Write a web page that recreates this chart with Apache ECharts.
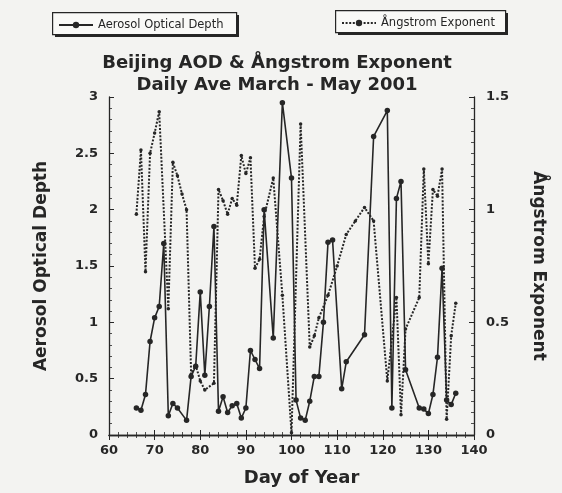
<!DOCTYPE html>
<html>
<head>
<meta charset="utf-8">
<script src="https://cdn.jsdelivr.net/npm/echarts@6/dist/echarts.min.js"></script>
<style>
  html, body { margin: 0; padding: 0; background: #f3f3f1; }
  #chart { width: 562px; height: 493px; }
</style>
</head>
<body>
<div id="chart"></div>
<script>
// Day of year for each daily AOD average
const aodDays = [66,67,68,69,70,71,72,73,74,75,
  77,78,79,80,81,82,83,84,85,86,87,88,89,90,91,92,93,94,
  96,98,100,101,102,103,104,105,106,107,108,109,
  111,112,116,118,121,122,123,124,125,
  128,129,130,131,132,133,134,135,136];
// Daily average aerosol optical depth
const aodValues = [0.24,0.22,0.36,0.83,1.04,1.14,1.70,0.17,0.28,0.24,
  0.13,0.52,0.61,1.27,0.53,1.14,1.85,0.21,0.34,0.20,0.26,0.28,0.15,0.24,0.75,0.67,0.59,2.00,
  0.86,2.95,2.28,0.31,0.15,0.13,0.30,0.52,0.52,1.00,1.71,1.73,
  0.41,0.65,0.89,2.65,2.88,0.24,2.10,2.25,0.58,
  0.24,0.23,0.19,0.36,0.69,1.48,0.31,0.27,0.37];

// Day of year for each daily Ångstrom exponent average
const angDays = [66,67,68,69,70,71,
  73,74,75,76,77,78,79,80,81,
  83,84,85,86,87,88,89,90,91,92,93,94,
  96,98,100,102,104,105,106,108,110,112,114,116,118,
  121,123,124,125,128,129,130,131,132,133,134,135,136];
// Daily average Ångstrom exponent
const angValues = [0.98,1.265,0.725,1.25,1.34,1.435,
  0.56,1.21,1.15,1.07,1.0,0.27,0.31,0.24,0.20,
  0.23,1.09,1.04,0.98,1.05,1.02,1.24,1.16,1.23,0.74,0.78,0.97,
  1.14,0.62,0.01,1.38,0.39,0.44,0.52,0.62,0.75,0.89,0.95,1.01,0.95,
  0.24,0.61,0.09,0.47,0.61,1.18,0.76,1.09,1.06,1.18,0.07,0.44,0.585];

const aodTicks = ['0','0.5','1','1.5','2','2.5','3'];
const angTicks = ['0','0.5','1','1.5'];

const INK = '#262626';
const FONT = '"DejaVu Sans", "Liberation Sans", sans-serif';

const aodData = aodDays.map((d, i) => [d, aodValues[i]]);
const angData = angDays.map((d, i) => [d, angValues[i]]);

const tickStyle = {
  axisLine: { show: true, lineStyle: { color: INK, width: 1.3 } },
  axisTick: { show: true, inside: true, length: 5, lineStyle: { color: INK, width: 1 } },
  minorTick: { show: true, length: 3, lineStyle: { color: INK, width: 0.8 } },
  splitLine: { show: false }
};

const legendBase = {
  orient: 'horizontal',
  padding: [7, 12, 7, 6],
  itemWidth: 34,
  itemHeight: 8,
  itemGap: 5,
  z: 10,
  textStyle: { fontFamily: FONT, fontSize: 11.5, color: INK }
};

// framed legend panel with a solid drop shadow
function legendFrame(x, y, w, h) {
  return [
    { type: 'rect', left: x + 3, top: y + 3, z: 1,
      shape: { width: w, height: h }, style: { fill: INK } },
    { type: 'rect', left: x, top: y, z: 2,
      shape: { width: w, height: h }, style: { fill: '#f9f9f7', stroke: INK, lineWidth: 1.2 } }
  ];
}

const chart = echarts.init(document.getElementById('chart'), null, { renderer: 'canvas' });
chart.setOption({
  backgroundColor: '#f3f3f1',
  animation: false,
  textStyle: { fontFamily: FONT, color: INK },
  graphic: [].concat(legendFrame(52, 12, 184, 22), legendFrame(335, 10, 170, 22)),
  title: {
    text: 'Beijing AOD & Ångstrom Exponent\nDaily Ave March - May 2001',
    left: 272,
    top: 47,
    textAlign: 'center',
    textStyle: { fontFamily: FONT, fontWeight: 'bold', fontSize: 18, lineHeight: 22, color: INK }
  },
  legend: [
    Object.assign({}, legendBase, { left: 52, top: 12, data: ['Aerosol Optical Depth'] }),
    Object.assign({}, legendBase, { left: 335, top: 10, data: ['Ångstrom Exponent'] })
  ],
  grid: { left: 109, right: 88, top: 97, bottom: 58, show: false },
  xAxis: [
    Object.assign({}, tickStyle, {
      type: 'value', position: 'bottom', min: 60, max: 140, interval: 10,
      minorTick: Object.assign({}, tickStyle.minorTick, { splitNumber: 5 }),
      axisLabel: { margin: 9, fontFamily: FONT, fontWeight: 'bold', fontSize: 13, color: INK },
      name: 'Day of Year', nameLocation: 'middle', nameGap: 34,
      nameTextStyle: { fontFamily: FONT, fontWeight: 'bold', fontSize: 18, color: INK, padding: [0, 0, 0, 20] }
    }),
    Object.assign({}, tickStyle, {
      type: 'value', position: 'top', min: 60, max: 140, interval: 10,
      minorTick: Object.assign({}, tickStyle.minorTick, { splitNumber: 5 }),
      axisLabel: { show: false }
    })
  ],
  yAxis: [
    Object.assign({}, tickStyle, {
      type: 'value', position: 'left', min: 0, max: 3, interval: 0.5,
      minorTick: Object.assign({}, tickStyle.minorTick, { splitNumber: 5 }),
      axisLabel: {
        margin: 11, fontFamily: FONT, fontWeight: 'bold', fontSize: 13, color: INK,
        formatter: (v) => aodTicks[Math.round(v / 0.5)]
      },
      name: 'Aerosol Optical Depth', nameLocation: 'middle', nameGap: 59, nameRotate: 90,
      nameTextStyle: { fontFamily: FONT, fontWeight: 'bold', fontSize: 17, color: INK }
    }),
    Object.assign({}, tickStyle, {
      type: 'value', position: 'right', min: 0, max: 1.5, interval: 0.5,
      minorTick: Object.assign({}, tickStyle.minorTick, { splitNumber: 10 }),
      axisLabel: {
        margin: 12, fontFamily: FONT, fontWeight: 'bold', fontSize: 13, color: INK,
        formatter: (v) => angTicks[Math.round(v / 0.5)]
      },
      name: 'Ångstrom Exponent', nameLocation: 'middle', nameGap: 56, nameRotate: -90,
      nameTextStyle: { fontFamily: FONT, fontWeight: 'bold', fontSize: 17, color: INK }
    })
  ],
  series: [
    {
      name: 'Ångstrom Exponent',
      type: 'line',
      xAxisIndex: 0,
      yAxisIndex: 1,
      data: angData,
      symbol: 'circle',
      symbolSize: 3.5,
      showAllSymbol: true,
      itemStyle: { color: INK },
      lineStyle: { color: INK, width: 2, type: [2, 1.6] },
      z: 2
    },
    {
      name: 'Aerosol Optical Depth',
      type: 'line',
      xAxisIndex: 0,
      yAxisIndex: 0,
      data: aodData,
      symbol: 'circle',
      symbolSize: 5.5,
      showAllSymbol: true,
      itemStyle: { color: INK },
      lineStyle: { color: INK, width: 1.6, type: 'solid' },
      z: 3
    }
  ]
});
</script>
</body>
</html>
